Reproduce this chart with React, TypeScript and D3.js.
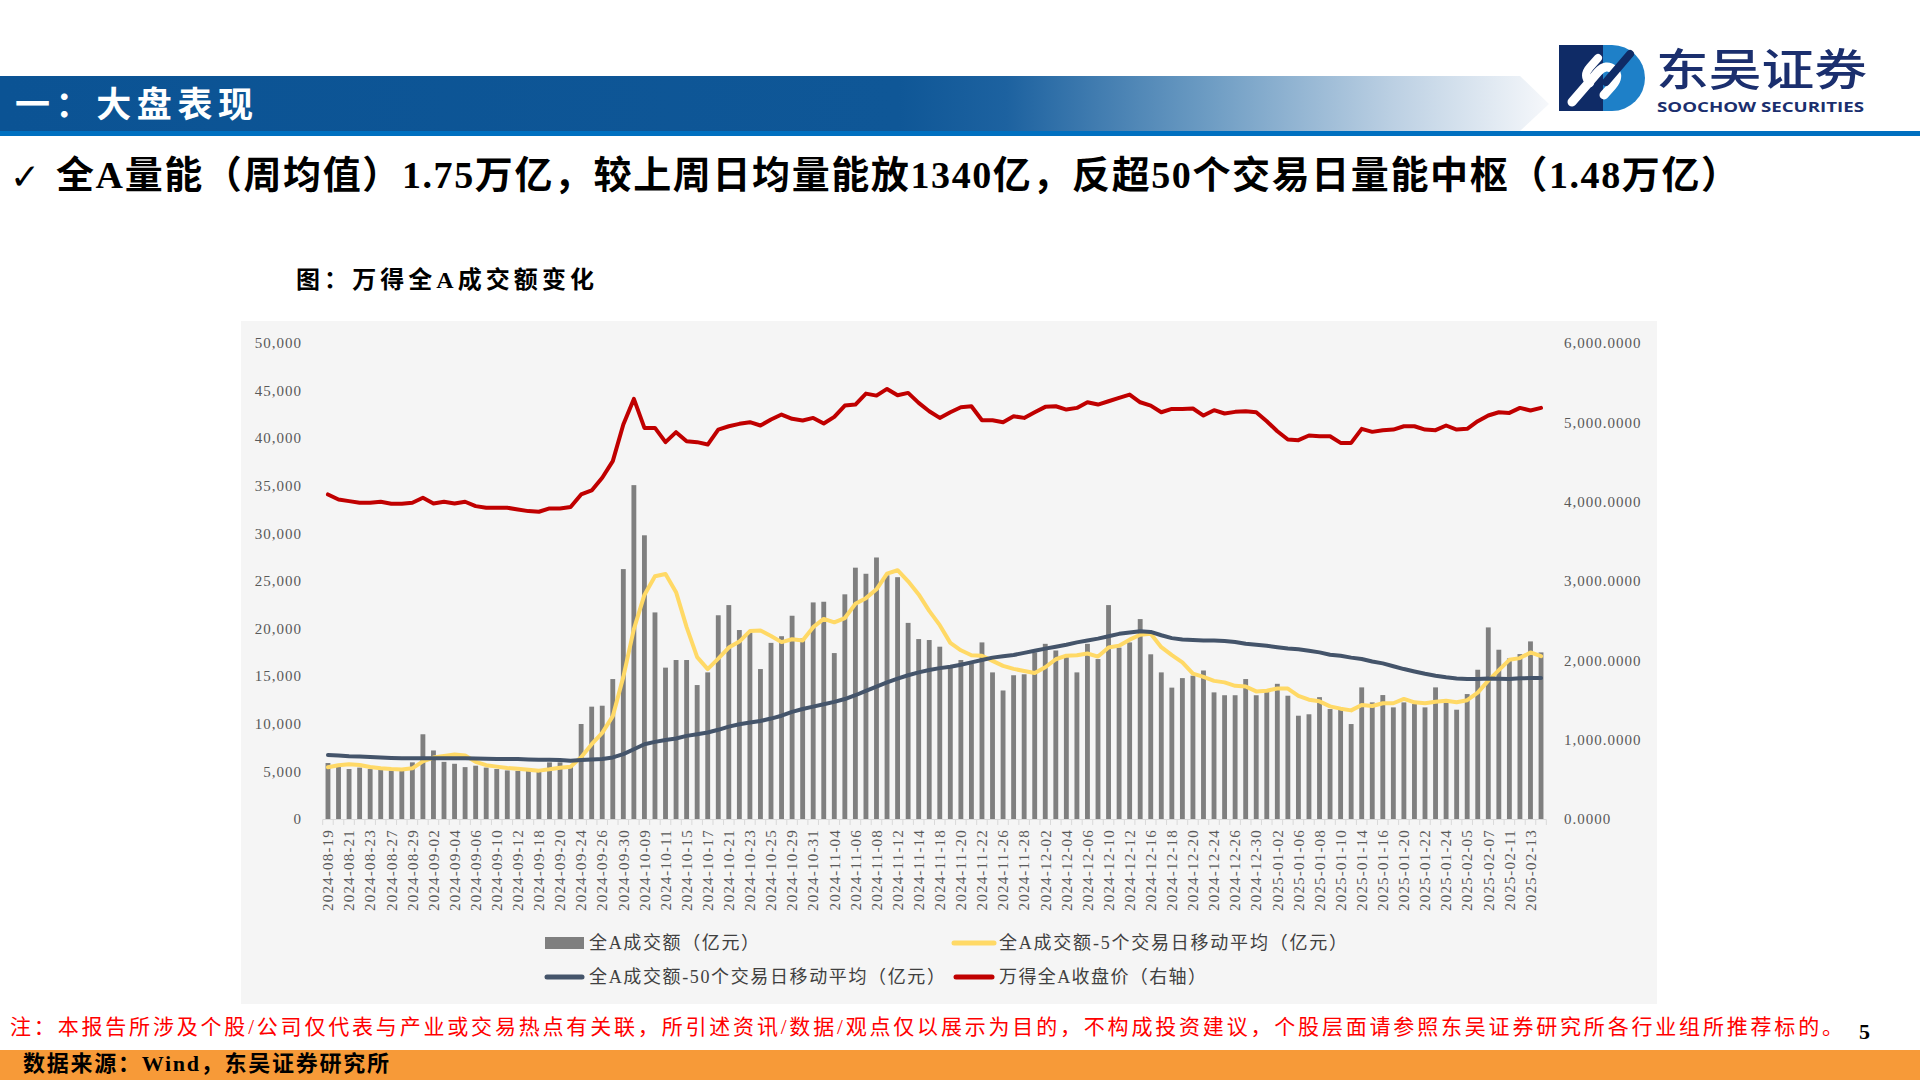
import React from "react";
import * as d3 from "d3";

const dates = [
  "2024-08-19","2024-08-20","2024-08-21","2024-08-22","2024-08-23","2024-08-26","2024-08-27","2024-08-28","2024-08-29","2024-08-30",
  "2024-09-02","2024-09-03","2024-09-04","2024-09-05","2024-09-06","2024-09-09","2024-09-10","2024-09-11","2024-09-12","2024-09-13",
  "2024-09-18","2024-09-19","2024-09-20","2024-09-23","2024-09-24","2024-09-25","2024-09-26","2024-09-27","2024-09-30",
  "2024-10-08","2024-10-09","2024-10-10","2024-10-11","2024-10-14","2024-10-15","2024-10-16","2024-10-17","2024-10-18",
  "2024-10-21","2024-10-22","2024-10-23","2024-10-24","2024-10-25","2024-10-28","2024-10-29","2024-10-30","2024-10-31",
  "2024-11-01","2024-11-04","2024-11-05","2024-11-06","2024-11-07","2024-11-08","2024-11-11","2024-11-12","2024-11-13",
  "2024-11-14","2024-11-15","2024-11-18","2024-11-19","2024-11-20","2024-11-21","2024-11-22","2024-11-25","2024-11-26",
  "2024-11-27","2024-11-28","2024-11-29",
  "2024-12-02","2024-12-03","2024-12-04","2024-12-05","2024-12-06","2024-12-09","2024-12-10","2024-12-11","2024-12-12",
  "2024-12-13","2024-12-16","2024-12-17","2024-12-18","2024-12-19","2024-12-20","2024-12-23","2024-12-24","2024-12-25",
  "2024-12-26","2024-12-27","2024-12-30","2024-12-31",
  "2025-01-02","2025-01-03","2025-01-06","2025-01-07","2025-01-08","2025-01-09","2025-01-10","2025-01-13","2025-01-14",
  "2025-01-15","2025-01-16","2025-01-17","2025-01-20","2025-01-21","2025-01-22","2025-01-23","2025-01-24","2025-01-27",
  "2025-02-05","2025-02-06","2025-02-07","2025-02-10","2025-02-11","2025-02-12","2025-02-13","2025-02-14"
];

// 全A成交额（亿元）
const turnover = [
  5880,5500,5250,5400,5250,5200,5100,5100,5950,8900,
  7200,6000,5800,5450,5600,5400,5250,5100,5050,5050,
  4950,5950,5950,5600,9980,11800,11900,14700,26250,
  35070,29800,21700,15900,16700,16700,14070,15400,21400,
  22470,19850,19600,15750,18500,19200,21350,18970,22750,
  22820,17430,23600,26400,25760,27470,25600,25400,20600,
  18900,18800,18100,16100,16700,16300,18550,15400,13500,
  15100,15200,17500,
  18400,17700,17000,15400,18400,16800,22470,18000,18550,
  21000,17300,15400,13800,14800,15050,15600,13300,13000,
  13000,14700,13000,13650,
  14200,12950,10850,11000,12800,11550,11725,9975,13825,
  12250,13020,11725,12250,12075,11725,13825,12250,11480,
  13125,15680,20125,17780,16870,17325,18655,17500
];

// 全A成交额-5个交易日移动平均（亿元）
const ma5 = [
  5430,5650,5750,5680,5460,5320,5240,5210,5320,6050,
  6450,6630,6770,6670,6010,5650,5500,5360,5280,5170,
  5080,5220,5390,5500,6490,7860,9050,10800,14930,
  19940,23540,25500,25740,23830,20160,17010,15750,16850,
  18010,18640,19740,19810,19230,18580,18880,18750,20150,
  21020,20660,21110,22600,23200,24130,25770,26130,24970,
  23590,21860,20360,18500,17720,17200,17150,16610,16090,
  15770,15550,15340,
  15940,16780,17160,17200,17380,17060,18010,18210,18840,
  19360,19460,18050,17210,16460,15270,14930,14510,14350,
  13990,13920,13400,13470,
  13710,13700,12930,12530,12360,11830,11590,11410,11980,
  11870,12160,12160,12610,12260,12160,12320,12430,12270,
  12480,13270,14530,15640,16720,16900,17500,17100
];

// 全A成交额-50个交易日移动平均（亿元）
const ma50 = [
  6720,6680,6600,6560,6500,6450,6400,6370,6370,6380,
  6380,6380,6380,6370,6360,6330,6300,6300,6290,6260,
  6230,6220,6210,6130,6190,6240,6300,6470,6820,
  7330,7850,8100,8300,8450,8730,8900,9080,9370,
  9700,9950,10130,10300,10550,10850,11250,11550,11800,
  12050,12300,12600,13000,13450,13900,14350,14750,15100,
  15400,15650,15850,16000,16200,16450,16700,16950,17100,
  17220,17450,17680,
  17900,18100,18300,18550,18750,18950,19200,19450,19600,
  19730,19650,19300,19000,18850,18800,18750,18750,18700,
  18600,18400,18300,18200,
  18050,17920,17820,17680,17500,17250,17150,16950,16800,
  16550,16350,16050,15750,15500,15250,15050,14880,14770,
  14700,14700,14750,14720,14700,14780,14800,14800
];

// 万得全A收盘价（右轴）
const closePrice = [
  4091,4028,4007,3986,3986,3999,3974,3974,3986,4049,
  3978,3999,3978,3999,3944,3923,3923,3923,3902,3881,
  3873,3915,3915,3932,4091,4141,4301,4511,4972,
  5295,4930,4930,4750,4876,4762,4750,4720,4909,
  4951,4981,5002,4960,5035,5098,5044,5023,5056,
  4985,5069,5211,5224,5362,5337,5421,5341,5371,
  5245,5140,5056,5127,5190,5203,5027,5027,5002,
  5077,5056,5127,
  5195,5203,5161,5182,5253,5224,5266,5308,5350,
  5253,5211,5127,5169,5169,5174,5085,5153,5111,
  5132,5140,5127,5014,
  4888,4783,4775,4834,4825,4825,4741,4741,4918,
  4880,4901,4909,4951,4951,4909,4901,4960,4909,
  4918,5014,5086,5127,5119,5182,5149,5182
];

const leftTicks = [0, 5000, 10000, 15000, 20000, 25000, 30000, 35000, 40000, 45000, 50000];
const rightTicks = [0, 1000, 2000, 3000, 4000, 5000, 6000];

const legendLabels = [
  "全A成交额（亿元）",
  "全A成交额-5个交易日移动平均（亿元）",
  "全A成交额-50个交易日移动平均（亿元）",
  "万得全A收盘价（右轴）",
];

const COLORS = {
  bar: "#7f7f7f",
  ma5: "#ffd966",
  ma50: "#44546a",
  close: "#c00000",
};

const SERIF = "'Liberation Serif', 'Times New Roman', 'Noto Sans CJK SC', serif";
const CJK = "'Liberation Serif', 'Noto Sans CJK SC', 'DejaVu Sans', sans-serif";

export default function App() {
  const n = dates.length;
  const x = d3.scaleBand<number>().domain(d3.range(n)).range([322.7, 1546.3]).paddingInner(0).paddingOuter(0);
  const cx = (i: number) => (x(i) as number) + x.bandwidth() / 2;
  const yL = d3.scaleLinear().domain([0, 50000]).range([819, 343]);
  const yR = d3.scaleLinear().domain([0, 6000]).range([819, 343]);
  const barW = x.bandwidth() * 0.46;

  const lineL = d3.line<number>().x((_, i) => cx(i)).y((v) => yL(v));
  const lineR = d3.line<number>().x((_, i) => cx(i)).y((v) => yR(v));

  const fmtL = d3.format(",");
  const fmtR = d3.format(",.4f");

  return (
    <svg width={1920} height={1080} style={{ position: "absolute", left: 0, top: 0, background: "#ffffff" }}>
      <defs>
        <linearGradient id="hdr" x1="0" y1="0" x2="1549" y2="0" gradientUnits="userSpaceOnUse">
          <stop offset="0" stopColor="#0b5394" />
          <stop offset="0.58" stopColor="#0f5797" />
          <stop offset="0.65" stopColor="#1d62a0" />
          <stop offset="0.78" stopColor="#6d9cc3" />
          <stop offset="0.9" stopColor="#bcd0e3" />
          <stop offset="1" stopColor="#f6f8fb" />
        </linearGradient>
      </defs>

      {/* header */}
      <path d="M0,76 L1520,76 L1549,104 L1520,131 L0,131 Z" fill="url(#hdr)" />
      <rect x={0} y={131} width={1920} height={5} fill="#0070c0" />
      <text x={15} y={117} fill="#ffffff" fontFamily={CJK} fontWeight={700} fontSize={35} textLength={238} lengthAdjust="spacing">一：大盘表现</text>

      {/* logo */}
      <g>
        <rect x={1559} y={45} width={44} height={66} fill="#0f2b66" />
        <path d="M1603,45 L1612,45 A33,33 0 0 1 1612,111 L1603,111 Z" fill="#1e80c8" />
        <path d="M1572,102 L1598,72 Q1606,63 1614,70 Q1620,77 1612,86 L1604,95" fill="none" stroke="#ffffff" strokeWidth={9} strokeLinecap="round" />
        <path d="M1598,58 L1590,67 Q1582,76 1590,83" fill="none" stroke="#ffffff" strokeWidth={8} strokeLinecap="round" />
        <path d="M1630,54 L1606,82" fill="none" stroke="#0f2b66" strokeWidth={8} strokeLinecap="round" />
      </g>
      <text x={1656} y={86} fill="#1b2f6e" fontFamily="'Noto Sans CJK SC', sans-serif" fontWeight={500} fontSize={44} textLength={211} lengthAdjust="spacingAndGlyphs">东吴证券</text>
      <text x={1657} y={112} fill="#1b2f6e" fontFamily="'Open Sans', 'Noto Sans', sans-serif" fontWeight={700} fontSize={15} textLength={207} lengthAdjust="spacingAndGlyphs">SOOCHOW SECURITIES</text>

      {/* headline */}
      <text x={10} y={189} fill="#000000" fontFamily="'DejaVu Sans', sans-serif" fontWeight={700} fontSize={36}>✓</text>
      <text x={56} y={188} fill="#000000" fontFamily={CJK} fontWeight={700} fontSize={38} textLength={1683} lengthAdjust="spacing">全A量能（周均值）1.75万亿，较上周日均量能放1340亿，反超50个交易日量能中枢（1.48万亿）</text>

      {/* chart title */}
      <text x={296} y={288} fill="#000000" fontFamily={CJK} fontWeight={700} fontSize={24} textLength={298} lengthAdjust="spacing">图：万得全A成交额变化</text>

      {/* chart panel */}
      <rect x={241} y={321} width={1416} height={683} fill="#f5f5f5" />

      {/* left axis labels */}
      {leftTicks.map((t) => (
        <text key={"l" + t} x={302} y={yL(t)} dy="0.35em" textAnchor="end" fill="#595959" fontFamily={SERIF} fontSize={15} letterSpacing={1}>{fmtL(t)}</text>
      ))}
      {/* right axis labels */}
      {rightTicks.map((t) => (
        <text key={"r" + t} x={1564} y={yR(t)} dy="0.35em" textAnchor="start" fill="#595959" fontFamily={SERIF} fontSize={15} letterSpacing={1}>{fmtR(t)}</text>
      ))}

      {/* bars */}
      {turnover.map((v, i) => (
        <rect key={"b" + i} x={cx(i) - barW / 2} y={yL(v)} width={barW} height={yL(0) - yL(v)} fill={COLORS.bar} />
      ))}

      {/* x axis */}
      <line x1={322.7} x2={1546.3} y1={819.5} y2={819.5} stroke="#d9d9d9" strokeWidth={1} />
      {d3.range(n + 1).map((i) => {
        const xx = i < n ? (x(i) as number) : 1546.3;
        return <line key={"t" + i} x1={xx} x2={xx} y1={819.5} y2={825} stroke="#d9d9d9" strokeWidth={1} />;
      })}
      {dates.map((d, i) =>
        i % 2 === 0 ? (
          <text key={"xl" + i} transform={`translate(${cx(i)},829) rotate(-90)`} textAnchor="end" dy="0.35em" fill="#595959" fontFamily={SERIF} fontSize={15} letterSpacing={1.2}>{d}</text>
        ) : null
      )}

      {/* lines */}
      <path d={lineL(ma5) || ""} fill="none" stroke={COLORS.ma5} strokeWidth={4} strokeLinejoin="round" strokeLinecap="round" />
      <path d={lineL(ma50) || ""} fill="none" stroke={COLORS.ma50} strokeWidth={4} strokeLinejoin="round" strokeLinecap="round" />
      <path d={lineR(closePrice) || ""} fill="none" stroke={COLORS.close} strokeWidth={4} strokeLinejoin="round" strokeLinecap="round" />

      {/* legend */}
      <rect x={545} y={937} width={39} height={12} fill={COLORS.bar} />
      <text x={589} y={943} dy="0.36em" fill="#404040" fontFamily={CJK} fontSize={18} textLength={170} lengthAdjust="spacing">{legendLabels[0]}</text>
      <line x1={954} x2={994} y1={943} y2={943} stroke={COLORS.ma5} strokeWidth={5} strokeLinecap="round" />
      <text x={999} y={943} dy="0.36em" fill="#404040" fontFamily={CJK} fontSize={18} textLength={348} lengthAdjust="spacing">{legendLabels[1]}</text>
      <line x1={547} x2={582} y1={977} y2={977} stroke={COLORS.ma50} strokeWidth={5} strokeLinecap="round" />
      <text x={589} y={977} dy="0.36em" fill="#404040" fontFamily={CJK} fontSize={18} textLength={356} lengthAdjust="spacing">{legendLabels[2]}</text>
      <line x1={956} x2={992} y1={977} y2={977} stroke={COLORS.close} strokeWidth={5} strokeLinecap="round" />
      <text x={999} y={977} dy="0.36em" fill="#404040" fontFamily={CJK} fontSize={18} textLength={207} lengthAdjust="spacing">{legendLabels[3]}</text>

      {/* footer note */}
      <text x={10} y={1034} fill="#ff0000" fontFamily={CJK} fontSize={21} textLength={1833} lengthAdjust="spacing">注：本报告所涉及个股/公司仅代表与产业或交易热点有关联，所引述资讯/数据/观点仅以展示为目的，不构成投资建议，个股层面请参照东吴证券研究所各行业组所推荐标的。</text>
      <text x={1859} y={1039} fill="#000000" fontFamily={SERIF} fontWeight={700} fontSize={22}>5</text>

      <rect x={0} y={1050} width={1920} height={30} fill="#f79a38" />
      <text x={23} y={1071} fill="#000000" fontFamily={CJK} fontWeight={700} fontSize={22} textLength={366} lengthAdjust="spacing">数据来源：Wind，东吴证券研究所</text>
    </svg>
  );
}
